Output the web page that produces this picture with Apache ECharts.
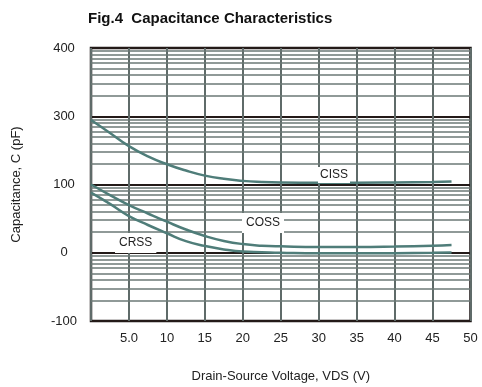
<!DOCTYPE html>
<html>
<head>
<meta charset="utf-8">
<script src="https://cdn.jsdelivr.net/npm/echarts@6/dist/echarts.min.js"></script>
<style>
  html, body { margin: 0; padding: 0; background: #fff; }
  #main { width: 482px; height: 387px; }
</style>
</head>
<body>
<div id="main"></div>
<script>
// 数据（pF，对数轴）
var vds = [0, 2.5, 5, 7.5, 10, 12.5, 15, 17.5, 20, 22.5, 25, 30, 35, 40, 45, 47.5];
var ciss = [880, 570, 365, 258, 198, 160, 135, 121, 113, 109, 107, 106, 106, 107, 109, 111];
var coss = [100, 70, 50, 37.6, 28.5, 21.9, 17.6, 14.9, 13.4, 12.7, 12.4, 12.1, 12.1, 12.3, 12.7, 13];
var crss = [76, 52, 34.5, 25.5, 19.3, 14.8, 12.6, 11.2, 10.4, 10.2, 10.0, 9.8, 9.8, 9.85, 10, 10.1];

// 刻度标签
var yTickLabels = ['-100', '0', '100', '300', '400'];
var xTickLabels = ['', '5.0', '10', '15', '20', '25', '30', '35', '40', '45', '50'];
var minorSteps = [2, 3, 4, 5, 6, 7, 8, 9];
var decades = [1, 10, 100, 1000];

var font = '"Liberation Sans", Arial, sans-serif';
var curveColor = '#4f7d79';

function pairs(xs, ys) {
	var out = [];
	for (var i = 0; i < xs.length; i++) out.push([xs[i], ys[i]]);
	return out;
}

// 次网格线
var minorLines = [];
for (var d = 0; d < decades.length; d++) {
	for (var k = 0; k < minorSteps.length; k++) {
		minorLines.push({ yAxis: decades[d] * minorSteps[k] });
	}
}

function curve(name, ys) {
	return {
		name: name,
		type: 'line',
		data: pairs(vds, ys),
		smooth: true,
		symbol: 'none',
		z: 5,
		lineStyle: { color: curveColor, width: 2.5 }
	};
}

var myChart = echarts.init(document.getElementById('main'));
var option = {
	animation: false,
	title: {
		text: 'Fig.4  Capacitance Characteristics',
		left: 88,
		top: 11,
		padding: 0,
		textStyle: { fontFamily: font, fontSize: 15, fontWeight: 'bold', color: '#111' }
	},
	grid: {
		left: 91, right: 11.5, top: 48, bottom: 66,
		outerBoundsMode: 'none',
		show: true,
		borderColor: '#1d1616',
		borderWidth: 2.5,
		backgroundColor: '#fff'
	},
	xAxis: {
		type: 'value',
		min: 0, max: 50, interval: 5,
		name: 'Drain-Source Voltage, VDS (V)',
		nameLocation: 'middle',
		nameGap: 49,
		nameTextStyle: { fontFamily: font, fontSize: 13, color: '#222' },
		axisLine: { show: false },
		axisTick: { show: false },
		axisLabel: {
			margin: 11,
			fontFamily: font, fontSize: 13, color: '#222',
			formatter: function(v) { return xTickLabels[Math.round(v / 5)]; }
		},
		splitLine: { show: true, lineStyle: { color: '#5f6b69', width: 2 } }
	},
	yAxis: {
		type: 'log',
		logBase: 10,
		min: 1, max: 10000,
		splitNumber: 4,
		name: 'Capacitance, C (pF)',
		nameLocation: 'middle',
		nameGap: 68,
		nameTextStyle: { fontFamily: font, fontSize: 13, color: '#222' },
		axisLine: { show: false },
		axisTick: { show: false },
		axisLabel: {
			margin: 27,
			align: 'center',
			fontFamily: font, fontSize: 13, color: '#222',
			formatter: function(v) { return yTickLabels[Math.round(Math.log10(v))]; }
		},
		splitLine: { show: true, lineStyle: { color: '#231a18', width: 2 } }
	},
	series: [
		{
			name: 'grid',
			type: 'line',
			data: [],
			silent: true,
			markLine: {
				silent: true,
				symbol: 'none',
				label: { show: false },
				animation: false,
				lineStyle: { color: '#6b7876', width: 1.5, type: 'solid' },
				data: minorLines
			}
		},
		curve('CISS', ciss),
		curve('COSS', coss),
		curve('CRSS', crss)
	],
	graphic: [
		{
			type: 'text', left: 318, top: 167, z: 10,
			style: { text: 'CISS', font: '12px ' + font, fill: '#222', backgroundColor: '#fff', padding: [2, 2] }
		},
		{
			type: 'text', left: 242, top: 213, z: 10,
			style: { text: 'COSS', font: '12px ' + font, fill: '#222', backgroundColor: '#fff', padding: [4, 4] }
		},
		{
			type: 'text', left: 115, top: 233, z: 10,
			style: { text: 'CRSS', font: '12px ' + font, fill: '#222', backgroundColor: '#fff', padding: [4, 4] }
		}
	]
};
myChart.setOption(option);
</script>
</body>
</html>
